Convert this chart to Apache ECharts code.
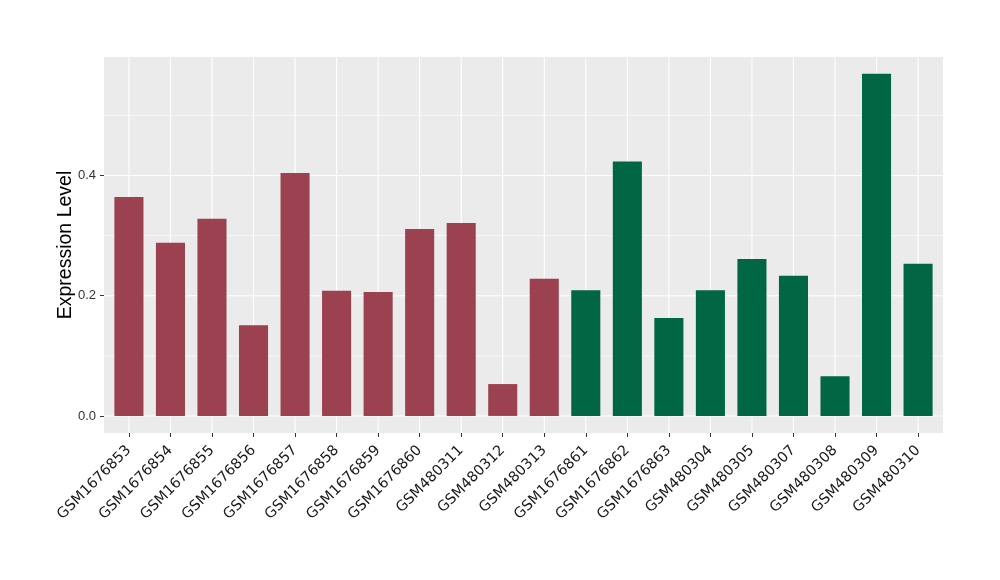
<!DOCTYPE html>
<html>
<head>
<meta charset="utf-8">
<script src="https://cdn.jsdelivr.net/npm/echarts@6/dist/echarts.min.js"></script>
<style>
  html, body { margin: 0; padding: 0; background: #ffffff; }
  #chart { width: 1000px; height: 580px; }
</style>
</head>
<body>
<div id="chart"></div>
<script>
const categories = [
  'GSM1676853', 'GSM1676854', 'GSM1676855', 'GSM1676856', 'GSM1676857',
  'GSM1676858', 'GSM1676859', 'GSM1676860', 'GSM480311', 'GSM480312',
  'GSM480313', 'GSM1676861', 'GSM1676862', 'GSM1676863', 'GSM480304',
  'GSM480305', 'GSM480307', 'GSM480308', 'GSM480309', 'GSM480310'
];
const values = [
  0.364, 0.288, 0.328, 0.151, 0.404,
  0.208, 0.206, 0.311, 0.321, 0.053,
  0.228, 0.209, 0.423, 0.163, 0.209,
  0.261, 0.233, 0.066, 0.569, 0.253
];
const groups = [
  'A', 'A', 'A', 'A', 'A', 'A', 'A', 'A', 'A', 'A', 'A',
  'B', 'B', 'B', 'B', 'B', 'B', 'B', 'B', 'B'
];
const yMajorTicks = [0, 0.2, 0.4];
const yMinorTicks = [0.1, 0.3, 0.5];

const groupColors = { A: '#9B4150', B: '#006644' };
const xIdx = categories.map((c, i) => i);

const gridLines = []
  .concat(yMinorTicks.map(v => ({ dir: 'h', v: v, major: false })))
  .concat(yMajorTicks.map(v => ({ dir: 'h', v: v, major: true })))
  .concat(xIdx.map(v => ({ dir: 'v', v: v, major: true })));

const chart = echarts.init(document.getElementById('chart'), null, { renderer: 'canvas' });

const option = {
  animation: false,
  backgroundColor: '#ffffff',
  grid: {
    left: 104, right: 57, top: 57, bottom: 147,
    show: true, backgroundColor: '#EBEBEB', borderWidth: 0,
    containLabel: false
  },
  xAxis: {
    type: 'value',
    min: -0.6, max: 19.6,
    axisLine: { show: false, onZero: false },
    splitLine: { show: false },
    axisTick: {
      show: true, customValues: xIdx, length: 4,
      lineStyle: { color: '#333333', width: 1 }
    },
    axisLabel: {
      show: true, customValues: xIdx,
      formatter: v => categories[Math.round(v)],
      rotate: 45, margin: 15,
      fontFamily: 'DejaVu Sans', fontSize: 14.5, color: '#1A1A1A'
    }
  },
  yAxis: {
    type: 'value',
    min: -0.0284, max: 0.597,
    name: 'Expression Level',
    nameLocation: 'middle',
    nameGap: 28,
    nameMoveOverlap: false,
    nameTextStyle: { fontFamily: 'Liberation Sans', fontSize: 19.5, color: '#000000' },
    axisLine: { show: false, onZero: false },
    splitLine: { show: false },
    axisTick: {
      show: true, customValues: yMajorTicks, length: 4,
      lineStyle: { color: '#333333', width: 1 }
    },
    axisLabel: {
      show: true, customValues: yMajorTicks,
      formatter: v => v.toFixed(1),
      margin: 8,
      fontFamily: 'Liberation Sans', fontSize: 13, color: '#333333'
    }
  },
  series: [
    {
      type: 'custom',
      silent: true,
      z: 1,
      clip: false,
      data: gridLines.map(g => g.dir === 'h' ? [0, g.v] : [g.v, 0]),
      renderItem: function (params, api) {
        const cs = params.coordSys;
        const g = gridLines[params.dataIndex];
        const w = g.major ? 1.1 : 0.55;
        if (g.dir === 'h') {
          const y = api.coord([0, g.v])[1];
          return {
            type: 'line',
            shape: { x1: cs.x, y1: y, x2: cs.x + cs.width, y2: y },
            style: { stroke: '#FFFFFF', lineWidth: w }
          };
        }
        const x = api.coord([g.v, 0])[0];
        return {
          type: 'line',
          shape: { x1: x, y1: cs.y, x2: x, y2: cs.y + cs.height },
          style: { stroke: '#FFFFFF', lineWidth: w }
        };
      }
    },
    {
      type: 'bar',
      z: 2,
      barWidth: '70%',
      data: values.map((v, i) => ({
        value: [i, v],
        itemStyle: { color: groupColors[groups[i]] }
      }))
    }
  ]
};

chart.setOption(option);
</script>
</body>
</html>
